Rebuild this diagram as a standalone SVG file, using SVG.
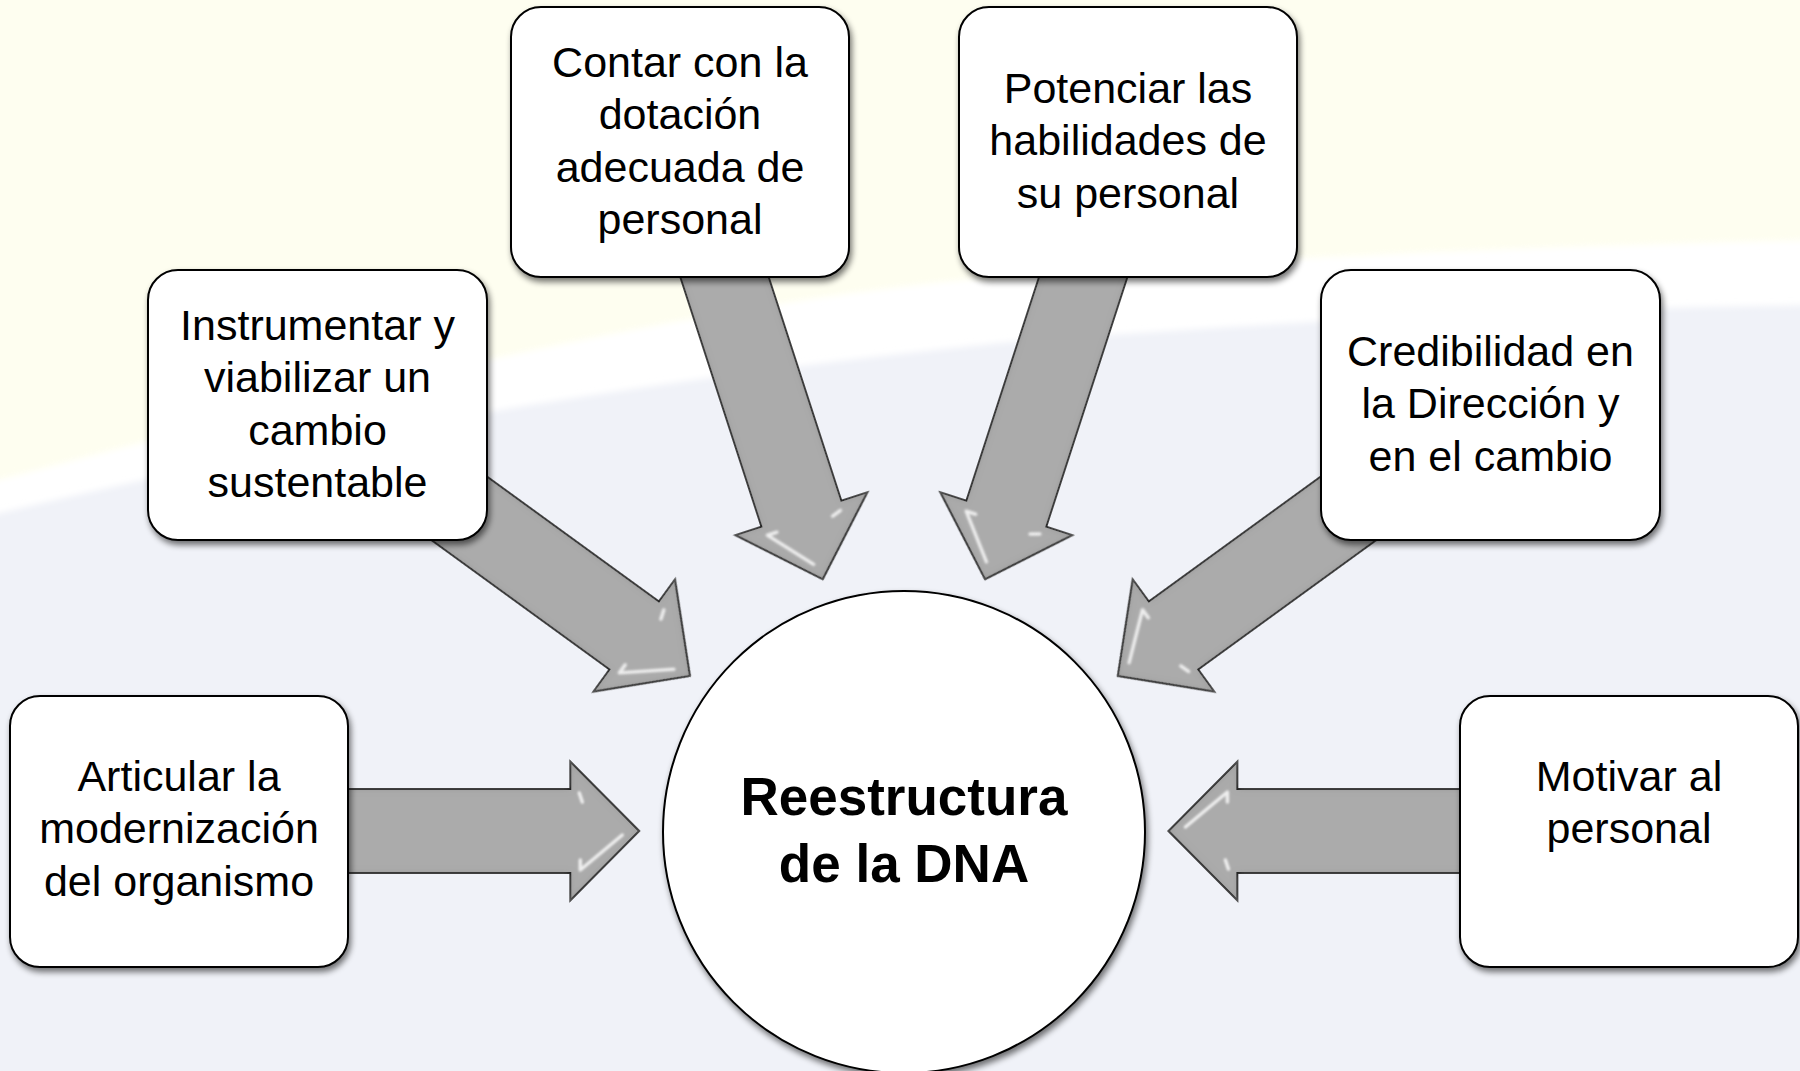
<svg xmlns="http://www.w3.org/2000/svg" xmlns:xlink="http://www.w3.org/1999/xlink" width="1800" height="1071" viewBox="0 0 1800 1071">
<defs>
<style>
.box{fill:#ffffff;stroke:#000000;stroke-width:2;filter:url(#sh)}
.t{font-family:"Liberation Sans",Arial,sans-serif;font-size:43px;fill:#000000;text-anchor:middle}
.tb{font-family:"Liberation Sans",Arial,sans-serif;font-size:53px;font-weight:bold;fill:#000000;text-anchor:middle}
.arrow{fill:#ababab;stroke:#000000;stroke-width:1.8;stroke-linejoin:miter}
.hl{fill:none;stroke:#ffffff;stroke-width:3.5;stroke-linecap:round;stroke-linejoin:round;opacity:0.8}
</style>
<filter id="sh" x="-10%" y="-10%" width="125%" height="125%">
<feGaussianBlur in="SourceAlpha" stdDeviation="3"/>
<feOffset dx="2" dy="4" result="o"/>
<feComponentTransfer><feFuncA type="linear" slope="0.55"/></feComponentTransfer>
<feMerge><feMergeNode/><feMergeNode in="SourceGraphic"/></feMerge>
</filter>
<filter id="bev" x="-10%" y="-10%" width="120%" height="120%">
<feGaussianBlur in="SourceAlpha" stdDeviation="3.5" result="blur"/>
<feComposite in="SourceAlpha" in2="blur" operator="out" result="rim"/>
<feFlood flood-color="#7a7a7a" flood-opacity="0.6" result="c"/>
<feComposite in="c" in2="rim" operator="in" result="rimc"/>
<feMerge><feMergeNode in="SourceGraphic"/><feMergeNode in="rimc"/></feMerge>
</filter>
<filter id="soft" x="-5%" y="-5%" width="110%" height="110%">
<feGaussianBlur stdDeviation="3"/>
</filter>
<filter id="hlb" x="-20%" y="-20%" width="140%" height="140%"><feGaussianBlur stdDeviation="1"/></filter>
<g id="arr">
<path class="arrow" filter="url(#bev)" d="M0,0 L-69,-69.5 L-69,-42 L-360,-42 L-360,42 L-69,42 L-69,69.5 Z"/>
<g class="hl" filter="url(#hlb)">
<path d="M-60,-38 L-57,-29"/>
<path d="M-59,29 L-59,39 L-17,4"/>
</g>
</g>
</defs>

<g id="background">
<rect x="0" y="0" width="1800" height="1071" fill="#ffffff"/>
<path filter="url(#soft)" fill="#fefef0" d="M-20,-20 H1820 V240 C1550,246 1300,256 1000,277 C700,300 300,400 -20,485 Z"/>
<path filter="url(#soft)" fill="#f0f2f8" d="M-20,1091 V518 C300,440 600,385 1000,343 C1300,320 1550,308 1820,305 V1091 Z"/>
</g>

<g id="connectors">
<use xlink:href="#arr" href="#arr" transform="translate(639.3,831) rotate(0)"/>
<use xlink:href="#arr" href="#arr" transform="translate(690,676) rotate(36)"/>
<use xlink:href="#arr" href="#arr" transform="translate(822.7,579.3) rotate(72)"/>
<use xlink:href="#arr" href="#arr" transform="translate(985,579.3) rotate(108)"/>
<use xlink:href="#arr" href="#arr" transform="translate(1117.7,676) rotate(144)"/>
<use xlink:href="#arr" href="#arr" transform="translate(1168.4,831) rotate(180)"/>
</g>

<g id="node-contar">
<rect class="box" x="511" y="7" width="338" height="270" rx="30" ry="30"/>
<text class="t" x="680" y="76.5">Contar con la</text>
<text class="t" x="680" y="129">dotación</text>
<text class="t" x="680" y="181.5">adecuada de</text>
<text class="t" x="680" y="234">personal</text>
</g>

<g id="node-potenciar">
<rect class="box" x="959" y="7" width="338" height="270" rx="30" ry="30"/>
<text class="t" x="1128" y="102.5">Potenciar las</text>
<text class="t" x="1128" y="155">habilidades de</text>
<text class="t" x="1128" y="207.5">su personal</text>
</g>

<g id="node-instrumentar">
<rect class="box" x="148" y="270" width="339" height="270" rx="30" ry="30"/>
<text class="t" x="317.5" y="339.5">Instrumentar y</text>
<text class="t" x="317.5" y="392">viabilizar un</text>
<text class="t" x="317.5" y="444.5">cambio</text>
<text class="t" x="317.5" y="497">sustentable</text>
</g>

<g id="node-credibilidad">
<rect class="box" x="1321" y="270" width="339" height="270" rx="30" ry="30"/>
<text class="t" x="1490.5" y="365.5">Credibilidad en</text>
<text class="t" x="1490.5" y="418">la Dirección y</text>
<text class="t" x="1490.5" y="470.5">en el cambio</text>
</g>

<g id="node-articular">
<rect class="box" x="10" y="696" width="338" height="271" rx="30" ry="30"/>
<text class="t" x="179" y="790.5">Articular la</text>
<text class="t" x="179" y="843">modernización</text>
<text class="t" x="179" y="895.5">del organismo</text>
</g>

<g id="node-motivar">
<rect class="box" x="1460" y="696" width="338" height="271" rx="30" ry="30"/>
<text class="t" x="1629" y="790.5">Motivar al</text>
<text class="t" x="1629" y="843">personal</text>
</g>

<g id="node-center">
<circle class="box" cx="904" cy="832" r="241"/>
<text class="tb" x="904" y="815">Reestructura</text>
<text class="tb" x="904" y="882">de la DNA</text>
</g>
</svg>
